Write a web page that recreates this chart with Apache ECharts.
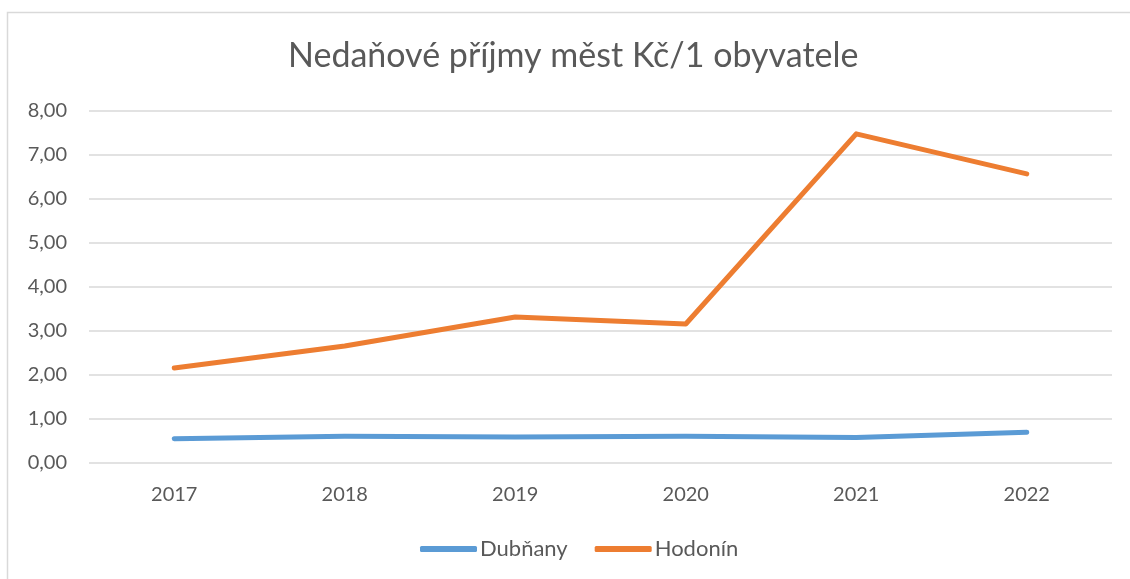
<!DOCTYPE html>
<html>
<head>
<meta charset="utf-8">
<script src="https://cdn.jsdelivr.net/npm/echarts@6/dist/echarts.min.js"></script>
<style>
  html, body { margin: 0; padding: 0; background: #fff; }
  #MainChart { width: 1130px; height: 579px; }
</style>
</head>
<body>
<div id="MainChart"></div>
<script>
  const years = ['2017', '2018', '2019', '2020', '2021', '2022']
  const dubnany = [0.55, 0.61, 0.59, 0.61, 0.58, 0.70]
  const hodonin = [2.16, 2.66, 3.32, 3.16, 7.48, 6.57]

  const fontFamily = 'Lato, "Liberation Sans", sans-serif'
  const textColor = '#595959'

  let mainChart = echarts.init(document.getElementById('MainChart'))
  mainChart.setOption({
    backgroundColor: '#ffffff',
    animation: false,
    graphic: [{
      type: 'rect',
      shape: { x: 7.5, y: 12.5, width: 1140, height: 600 },
      style: { fill: 'none', stroke: '#d9d9d9', lineWidth: 1.5 },
      silent: true
    }],
    title: {
      text: 'Nedaňové příjmy měst Kč/1 obyvatele',
      left: 288,
      top: 39,
      padding: 0,
      textStyle: {
        fontFamily: fontFamily,
        fontWeight: 'normal',
        fontSize: 34,
        color: textColor
      }
    },
    legend: {
      bottom: 19,
      left: 420,
      padding: 0,
      itemWidth: 57,
      itemHeight: 6,
      itemGap: 27,
      icon: 'roundRect',
      textStyle: {
        fontFamily: fontFamily,
        fontSize: 22,
        color: textColor,
        padding: [0, 0, 0, -2]
      },
      data: ['Dubňany', 'Hodonín']
    },
    grid: {
      left: 89,
      right: 18,
      top: 111,
      bottom: 116,
      containLabel: false
    },
    xAxis: {
      type: 'category',
      data: years,
      boundaryGap: true,
      axisLine: { show: false },
      axisTick: { show: false },
      axisLabel: {
        margin: 22,
        fontFamily: fontFamily,
        fontSize: 20,
        color: textColor
      }
    },
    yAxis: {
      type: 'value',
      min: 0,
      max: 8,
      interval: 1,
      axisLine: { show: false },
      axisTick: { show: false },
      axisLabel: {
        margin: 22,
        fontFamily: fontFamily,
        fontSize: 20,
        color: textColor,
        formatter: v => v.toFixed(2).replace('.', ',')
      },
      splitLine: {
        lineStyle: { color: '#d9d9d9', width: 1.5 }
      }
    },
    series: [{
      name: 'Dubňany',
      type: 'line',
      data: dubnany,
      showSymbol: false,
      symbol: 'none',
      color: '#5b9bd5',
      lineStyle: { width: 5, cap: 'round', join: 'round' }
    }, {
      name: 'Hodonín',
      type: 'line',
      data: hodonin,
      showSymbol: false,
      symbol: 'none',
      color: '#ed7d31',
      lineStyle: { width: 5, cap: 'round', join: 'round' }
    }]
  })
</script>
</body>
</html>
